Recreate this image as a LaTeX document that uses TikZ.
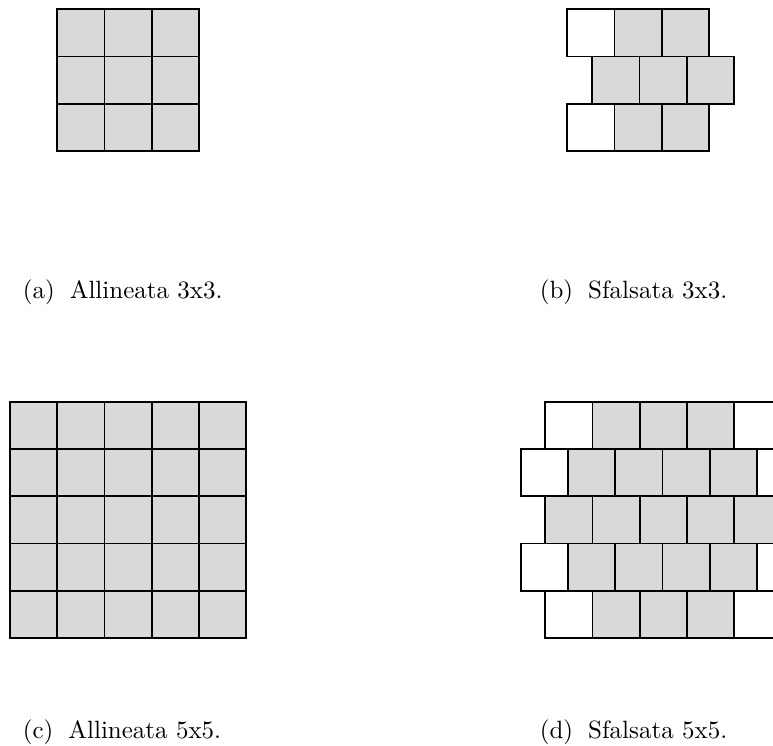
\documentclass[tikz,border=0pt]{standalone}
\begin{document}
\begin{tikzpicture}[x=0.6pt,y=-0.6pt,
  cellg/.style={fill=gray!30,draw=black,line width=1.1pt},
  cellw/.style={fill=white,draw=black,line width=1.1pt},
  captext/.style={anchor=base west,inner sep=0pt}]
\def\cs{47.27}
\useasboundingbox (0,0) rectangle (773,746);
\clip (0,0) rectangle (773,746);
% (a) aligned 3x3
\foreach \i in {0,1,2}
  \foreach \j in {0,1,2}
    \draw[cellg] ({57.3+\i*\cs},{9.3+\j*\cs}) rectangle ++(\cs,\cs);
% (b) staggered 3x3
\foreach \j in {0,2}{
  \draw[cellw] (567.3,{9.3+\j*\cs}) rectangle ++(\cs,\cs);
  \foreach \i in {1,2}
    \draw[cellg] ({567.3+\i*\cs},{9.3+\j*\cs}) rectangle ++(\cs,\cs);
}
\foreach \i in {0,1,2}
  \draw[cellg] ({592.3+\i*\cs},{9.3+\cs}) rectangle ++(\cs,\cs);
% (c) aligned 5x5
\foreach \i in {0,...,4}
  \foreach \j in {0,...,4}
    \draw[cellg] ({10+\i*\cs},{401.7+\j*\cs}) rectangle ++(\cs,\cs);
% (d) staggered 5x5
\foreach \j in {0,4}{
  \draw[cellw] (545.3,{401.7+\j*\cs}) rectangle ++(\cs,\cs);
  \foreach \i in {1,2,3}
    \draw[cellg] ({545.3+\i*\cs},{401.7+\j*\cs}) rectangle ++(\cs,\cs);
  \draw[cellw] ({545.3+4*\cs},{401.7+\j*\cs}) rectangle ++(\cs,\cs);
}
\foreach \j in {1,3}{
  \draw[cellw] (520.7,{401.7+\j*\cs}) rectangle ++(\cs,\cs);
  \foreach \i in {1,...,4}
    \draw[cellg] ({520.7+\i*\cs},{401.7+\j*\cs}) rectangle ++(\cs,\cs);
  \draw[cellw] ({520.7+5*\cs},{401.7+\j*\cs}) rectangle ++(\cs,\cs);
}
\foreach \i in {0,...,4}
  \draw[cellg] ({545.3+\i*\cs},{401.7+2*\cs}) rectangle ++(\cs,\cs);
% captions
\node[captext] (capa) at (22.5,298) {\scalebox{1.5}{(a)\hspace{6pt}Allineata 3x3.}};
\node[captext] (capb) at (539.5,298) {\scalebox{1.5}{(b)\hspace{6pt}Sfalsata 3x3.}};
\node[captext] (capc) at (22.5,738) {\scalebox{1.5}{(c)\hspace{6pt}Allineata 5x5.}};
\node[captext] (capd) at (539.5,738) {\scalebox{1.5}{(d)\hspace{6pt}Sfalsata 5x5.}};
\end{tikzpicture}
\end{document}
